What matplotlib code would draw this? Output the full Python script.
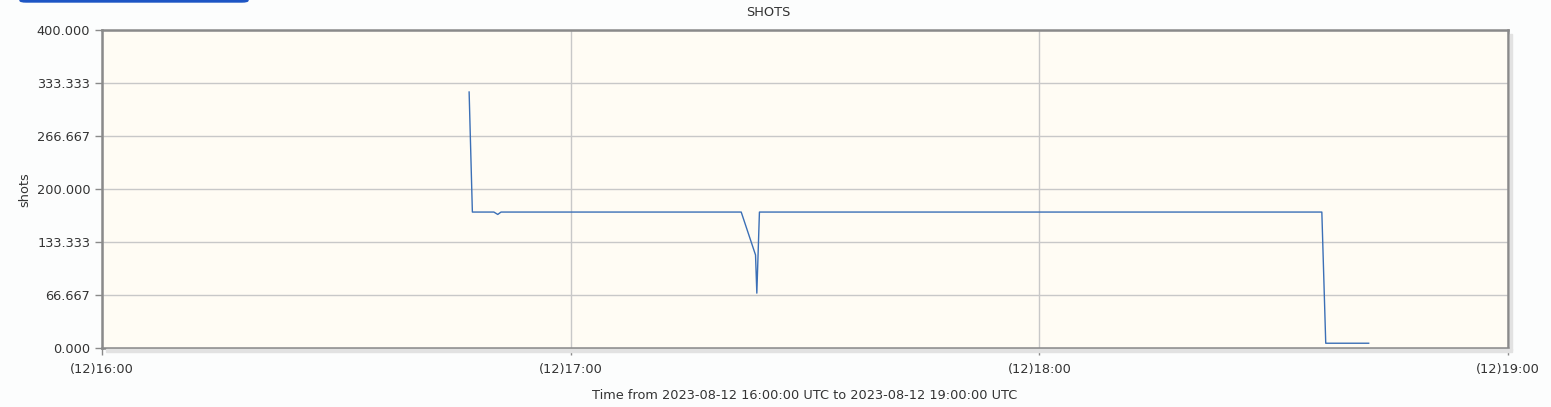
import matplotlib
matplotlib.use("Agg")
import matplotlib.pyplot as plt
import matplotlib.dates as mdates
from matplotlib.patches import FancyBboxPatch
import pandas as pd

# ---- data ----
times = ["16:47:00", "16:47:25", "16:50:10", "16:50:40", "16:51:05",
         "17:00:00", "17:10:00", "17:17:00", "17:21:50",
         "17:23:40", "17:23:50", "17:24:10", "17:30:00", "17:45:00",
         "18:00:00", "18:15:00", "18:30:00", "18:36:10",
         "18:36:40", "18:39:00", "18:42:10"]
shots = [322, 171, 171, 168, 171,
         171, 171, 171, 171,
         117, 69, 171, 171, 171,
         171, 171, 171, 171,
         6, 6, 6]
yticks = [0, 66.667, 133.333, 200, 266.667, 333.333, 400]
xticks = ["16:00", "17:00", "18:00", "19:00"]
date = "2023-08-12"
title = "SHOTS"
ylabel = "shots"
xlabel = "Time from 2023-08-12 16:00:00 UTC to 2023-08-12 19:00:00 UTC"

t = pd.to_datetime([f"{date} {s}" for s in times])
tick_t = pd.to_datetime([f"{date} {s}" for s in xticks])

txt = "#333333"
fs = 9.3
fig = plt.figure(figsize=(15.51, 4.07), dpi=100, facecolor="#fcfdfd")
ax = fig.add_axes([102/1551, 1-348/407, (1508-102)/1551, (348-30)/407])
ax.set_facecolor("#fffcf4")

ax.plot(t, shots, color="#3b6fb6", lw=1.0)

ax.set_xlim(tick_t[0], tick_t[-1])
ax.set_ylim(0, 400)
ax.set_yticks(yticks)
ax.set_yticklabels([f"{v:.3f}" for v in yticks])
ax.set_xticks(tick_t)
ax.xaxis.set_major_formatter(mdates.DateFormatter("(%d)%H:%M"))
ax.grid(True, color="#c8c8c8", lw=1)
ax.set_axisbelow(True)
for s in ax.spines.values():
    s.set_color("#8a8a8a")
    s.set_linewidth(1.8)
ax.tick_params(axis="both", colors="#8a8a8a", labelcolor=txt, labelsize=fs, length=5, width=1)
ax.tick_params(axis="x", pad=6)

fig.text(768/1551, 1-12/407, title, fontsize=fs, color=txt, ha="center", va="center")
fig.text(25/1551, 1-190/407, ylabel, fontsize=fs, color=txt, ha="center", va="center",
         rotation=90)
ax.set_xlabel(xlabel, fontsize=fs, color=txt, labelpad=9)

# shadow on right/bottom
fig.patches.append(plt.Rectangle((1510/1551, 1-350/407), 2/1551, (350-34)/407,
                                 transform=fig.transFigure, color="#e2e2e2", zorder=0))
fig.patches.append(plt.Rectangle((106/1551, 1-352/407), (1512-106)/1551, 3/407,
                                 transform=fig.transFigure, color="#e2e2e2", zorder=0))

# partial blue button at top
fig.patches.append(FancyBboxPatch((20/1551, 1-2/407), 228/1551, 8/407,
                                  boxstyle="round,pad=0,rounding_size=0.004",
                                  transform=fig.transFigure, color="#1d55c4", zorder=1))

fig.savefig("out.png", dpi=100, facecolor=fig.get_facecolor())
